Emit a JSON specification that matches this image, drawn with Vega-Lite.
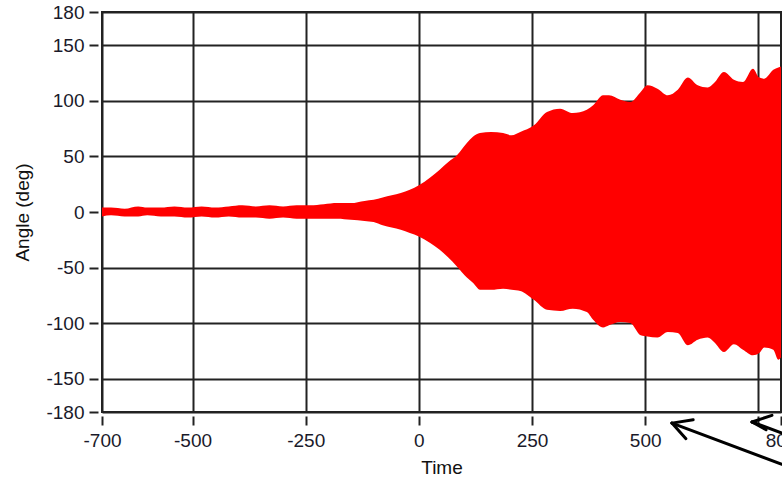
{
  "$schema": "https://vega.github.io/schema/vega-lite/v6.json",
  "width": 679,
  "height": 400,
  "autosize": "none",
  "padding": {"left": 102, "top": 12, "right": 1, "bottom": 72},
  "background": "white",
  "config": {
    "view": {"stroke": "#222", "strokeWidth": 2},
    "font": "Liberation Sans"
  },
  "layer": [
    {
      "data": {
        "values": [
          {"t": -700, "hi": 4, "lo": -4},
          {"t": -680, "hi": 4, "lo": -3},
          {"t": -650, "hi": 3, "lo": -4},
          {"t": -620, "hi": 5, "lo": -4},
          {"t": -600, "hi": 4, "lo": -3},
          {"t": -570, "hi": 4, "lo": -4},
          {"t": -540, "hi": 5, "lo": -4},
          {"t": -510, "hi": 4, "lo": -5},
          {"t": -480, "hi": 5, "lo": -4},
          {"t": -450, "hi": 4, "lo": -5},
          {"t": -420, "hi": 5, "lo": -4},
          {"t": -390, "hi": 6, "lo": -5},
          {"t": -360, "hi": 5, "lo": -5},
          {"t": -330, "hi": 6, "lo": -6},
          {"t": -300, "hi": 5, "lo": -5},
          {"t": -270, "hi": 6, "lo": -6},
          {"t": -240, "hi": 6, "lo": -6},
          {"t": -210, "hi": 7, "lo": -6},
          {"t": -180, "hi": 8, "lo": -6},
          {"t": -150, "hi": 8, "lo": -7},
          {"t": -120, "hi": 10, "lo": -8},
          {"t": -100, "hi": 11, "lo": -9},
          {"t": -80, "hi": 13, "lo": -12},
          {"t": -60, "hi": 15, "lo": -14},
          {"t": -40, "hi": 17, "lo": -16},
          {"t": -20, "hi": 20, "lo": -19},
          {"t": 0, "hi": 24, "lo": -22},
          {"t": 25, "hi": 31, "lo": -28},
          {"t": 46, "hi": 38, "lo": -34},
          {"t": 65, "hi": 45, "lo": -41},
          {"t": 84, "hi": 51, "lo": -49},
          {"t": 106, "hi": 62, "lo": -59},
          {"t": 120, "hi": 68, "lo": -64},
          {"t": 135, "hi": 71, "lo": -70},
          {"t": 160, "hi": 72, "lo": -70},
          {"t": 186, "hi": 71, "lo": -69},
          {"t": 205, "hi": 69, "lo": -70},
          {"t": 224, "hi": 72, "lo": -71},
          {"t": 254, "hi": 78, "lo": -79},
          {"t": 283, "hi": 90, "lo": -88},
          {"t": 312, "hi": 93, "lo": -89},
          {"t": 340, "hi": 89, "lo": -87},
          {"t": 371, "hi": 92, "lo": -90},
          {"t": 385, "hi": 96, "lo": -97},
          {"t": 407, "hi": 105, "lo": -104},
          {"t": 420, "hi": 105, "lo": -102},
          {"t": 445, "hi": 101, "lo": -99},
          {"t": 467, "hi": 99, "lo": -100},
          {"t": 490, "hi": 108, "lo": -111},
          {"t": 505, "hi": 114, "lo": -112},
          {"t": 527, "hi": 111, "lo": -113},
          {"t": 550, "hi": 105, "lo": -108},
          {"t": 572, "hi": 110, "lo": -109},
          {"t": 594, "hi": 121, "lo": -120},
          {"t": 616, "hi": 114, "lo": -115},
          {"t": 638, "hi": 112, "lo": -113},
          {"t": 652, "hi": 116, "lo": -117},
          {"t": 674, "hi": 126, "lo": -126},
          {"t": 696, "hi": 119, "lo": -119},
          {"t": 716, "hi": 117, "lo": -124},
          {"t": 738, "hi": 129, "lo": -129},
          {"t": 752, "hi": 121, "lo": -127},
          {"t": 763, "hi": 120, "lo": -122},
          {"t": 783, "hi": 128, "lo": -124},
          {"t": 794, "hi": 130, "lo": -133},
          {"t": 800, "hi": 131, "lo": -131}
        ]
      },
      "mark": {"type": "area", "color": "#ff0000", "interpolate": "monotone", "opacity": 1},
      "encoding": {
        "x": {
          "field": "t",
          "type": "quantitative",
          "scale": {"domain": [-700, 800], "nice": false, "zero": false},
          "axis": {
            "title": "Time",
            "values": [-700, -500, -250, 0, 250, 500, 750, 800],
            "labelExpr": "datum.value == 750 ? '' : '' + datum.value",
            "domain": false,
            "offset": 4,
            "tickSize": 9,
            "tickWidth": 2,
            "tickColor": "#222",
            "labelFontSize": 19,
            "labelColor": "#1a1a2a",
            "labelPadding": 6,
            "labelFlush": false,
            "labelOverlap": false,
            "grid": true,
            "gridColor": "#222",
            "gridWidth": 2,
            "gridOpacity": 1,
            "titleFontSize": 19,
            "titleFontWeight": "normal",
            "titleColor": "#111",
            "titlePadding": 8
          }
        },
        "y": {
          "field": "hi",
          "type": "quantitative",
          "scale": {"domain": [-180, 180], "nice": false},
          "axis": {
            "title": "Angle (deg)",
            "values": [-180, -150, -100, -50, 0, 50, 100, 150, 180],
            "labelExpr": "'' + datum.value",
            "domain": false,
            "offset": 4,
            "tickSize": 9,
            "tickWidth": 2,
            "tickColor": "#222",
            "labelFontSize": 19,
            "labelColor": "#1a1a2a",
            "labelPadding": 5,
            "labelFlush": false,
            "labelOverlap": false,
            "grid": true,
            "gridColor": "#222",
            "gridWidth": 2,
            "gridOpacity": 1,
            "titleFontSize": 19,
            "titleFontWeight": "normal",
            "titleColor": "#111",
            "titlePadding": 13
          }
        },
        "y2": {"field": "lo"}
      }
    },
    {
      "data": {
        "values": [
          {"x1": 559, "y1": -190, "x2": 802, "y2": -227},
          {"x1": 559, "y1": -190, "x2": 606, "y2": -187},
          {"x1": 559, "y1": -190, "x2": 590, "y2": -204},
          {"x1": 736, "y1": -189, "x2": 802, "y2": -199},
          {"x1": 736, "y1": -189, "x2": 780, "y2": -183},
          {"x1": 736, "y1": -189, "x2": 767, "y2": -196}
        ]
      },
      "mark": {"type": "rule", "color": "#000", "strokeWidth": 3, "strokeCap": "round", "clip": false},
      "encoding": {
        "x": {"field": "x1", "type": "quantitative"},
        "x2": {"field": "x2"},
        "y": {"field": "y1", "type": "quantitative"},
        "y2": {"field": "y2"}
      }
    }
  ]
}
